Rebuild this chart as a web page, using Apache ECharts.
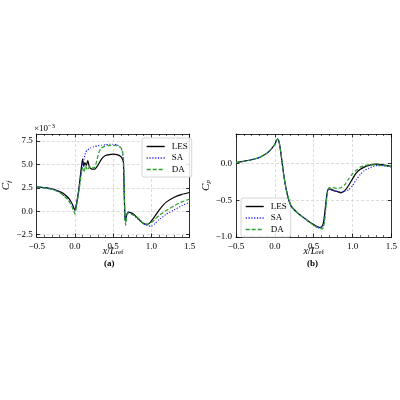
<!DOCTYPE html>
<html><head><meta charset="utf-8">
<script src="https://cdn.jsdelivr.net/npm/echarts@6/dist/echarts.min.js"></script>
<style>html,body{margin:0;padding:0;background:#fff}#c{width:400px;height:400px}</style>
</head><body><div id="c"></div>
<script>
// ---- Skin friction Cf (x1e-3) ----
const cfX_LES = [-0.5,-0.4,-0.3,-0.2,-0.15,-0.1,-0.06,-0.03,0.0,0.02,0.05,0.08,0.1,0.115,0.13,0.15,0.17,0.19,0.22,0.26,0.3,0.35,0.4,0.45,0.5,0.55,0.6,0.62,0.635,0.645,0.655,0.665,0.68,0.7,0.73,0.78,0.83,0.88,0.93,0.97,1.0,1.05,1.1,1.15,1.2,1.3,1.4,1.5];
const cfY_LES = [2.6,2.52,2.4,2.1,1.9,1.55,1.15,0.7,0.1,0.8,2.3,4.4,5.6,4.8,5.2,4.9,5.4,4.7,4.5,4.5,4.9,5.6,5.95,6.05,6.1,6.05,5.85,5.6,5.2,2.0,-0.6,-1.0,-0.3,-0.1,-0.15,-0.4,-0.8,-1.2,-1.4,-1.3,-1.05,-0.5,0.1,0.6,1.0,1.5,1.8,2.0];
const cfX_SA = [-0.5,-0.4,-0.3,-0.2,-0.1,-0.05,-0.02,0.0,0.02,0.05,0.08,0.1,0.12,0.14,0.16,0.2,0.25,0.3,0.35,0.4,0.45,0.5,0.55,0.6,0.62,0.635,0.645,0.655,0.665,0.68,0.7,0.75,0.8,0.85,0.9,0.95,1.0,1.05,1.1,1.2,1.3,1.4,1.5];
const cfY_SA = [2.6,2.5,2.35,2.05,1.35,0.85,0.35,0.0,0.7,2.2,4.0,4.9,5.6,6.3,6.5,6.75,6.9,7.0,7.05,7.1,7.15,7.15,7.1,6.8,6.4,5.5,2.5,-0.6,-1.2,-0.3,-0.15,-0.3,-0.65,-1.0,-1.35,-1.55,-1.6,-1.3,-0.9,-0.3,0.15,0.6,0.95];
const cfX_DA = [-0.5,-0.4,-0.3,-0.2,-0.1,-0.05,-0.02,0.0,0.02,0.05,0.08,0.1,0.12,0.14,0.16,0.2,0.25,0.28,0.31,0.34,0.38,0.44,0.5,0.55,0.6,0.62,0.635,0.645,0.655,0.665,0.68,0.7,0.75,0.8,0.85,0.9,0.95,1.0,1.05,1.1,1.2,1.3,1.4,1.5];
const cfY_DA = [2.6,2.5,2.33,2.0,1.3,0.7,0.1,-0.3,0.5,2.0,3.8,4.6,4.2,4.9,4.4,4.8,4.6,5.2,6.2,6.7,6.9,7.0,7.05,7.0,6.8,6.5,5.7,3.0,-1.0,-1.5,-0.4,-0.2,-0.35,-0.55,-0.9,-1.35,-1.4,-1.2,-0.85,-0.45,0.1,0.6,1.0,1.3];

// ---- Pressure coefficient Cp ----
const cpX_LES = [-0.5,-0.4,-0.3,-0.2,-0.1,-0.05,0.0,0.02,0.035,0.05,0.07,0.09,0.11,0.13,0.15,0.18,0.21,0.25,0.3,0.35,0.4,0.45,0.5,0.55,0.58,0.61,0.63,0.65,0.67,0.69,0.72,0.76,0.8,0.85,0.9,0.95,1.0,1.05,1.1,1.15,1.2,1.3,1.4,1.5];
const cpY_LES = [0.01,0.03,0.05,0.08,0.14,0.19,0.26,0.31,0.33,0.31,0.2,0.04,-0.12,-0.26,-0.37,-0.5,-0.58,-0.63,-0.68,-0.72,-0.76,-0.8,-0.83,-0.86,-0.87,-0.85,-0.78,-0.6,-0.42,-0.35,-0.35,-0.37,-0.38,-0.40,-0.37,-0.3,-0.21,-0.13,-0.08,-0.05,-0.03,-0.01,-0.02,-0.04];
const cpX_SA = [-0.5,-0.4,-0.3,-0.2,-0.1,-0.05,0.0,0.02,0.035,0.05,0.07,0.09,0.11,0.13,0.15,0.18,0.21,0.25,0.3,0.35,0.4,0.45,0.5,0.55,0.58,0.61,0.63,0.65,0.67,0.69,0.72,0.8,0.85,0.9,0.95,1.0,1.05,1.1,1.15,1.2,1.3,1.4,1.5];
const cpY_SA = [0.01,0.03,0.05,0.08,0.14,0.19,0.26,0.31,0.33,0.31,0.2,0.04,-0.12,-0.26,-0.37,-0.5,-0.58,-0.63,-0.68,-0.72,-0.76,-0.8,-0.84,-0.87,-0.88,-0.87,-0.82,-0.66,-0.44,-0.36,-0.36,-0.38,-0.39,-0.38,-0.36,-0.30,-0.22,-0.15,-0.10,-0.07,-0.03,-0.03,-0.05];
const cpX_DA = [-0.5,-0.4,-0.3,-0.2,-0.1,-0.05,0.0,0.02,0.035,0.05,0.07,0.09,0.11,0.13,0.15,0.18,0.21,0.25,0.3,0.35,0.4,0.45,0.5,0.55,0.6,0.62,0.64,0.66,0.68,0.7,0.75,0.8,0.85,0.9,0.95,1.0,1.05,1.1,1.2,1.3,1.4,1.5];
const cpY_DA = [0.01,0.03,0.05,0.08,0.14,0.19,0.26,0.31,0.33,0.31,0.2,0.04,-0.12,-0.26,-0.37,-0.5,-0.58,-0.63,-0.68,-0.72,-0.76,-0.8,-0.84,-0.87,-0.89,-0.88,-0.8,-0.55,-0.36,-0.33,-0.33,-0.34,-0.33,-0.29,-0.21,-0.14,-0.09,-0.05,-0.02,-0.02,-0.03,-0.04];

const xTicks = [-0.5, 0.0, 0.5, 1.0, 1.5];
const cfTicks = [-2.5, 0.0, 2.5, 5.0, 7.5];
const cpTicks = [-1.0, -0.5, 0.0];

const seriesNames = ['LES', 'SA', 'DA'];

const FONT = 'Liberation Serif';
const fmt = v => (Math.round(v * 10) / 10).toFixed(1).replace('-', '\u2212');
const pairs = (xs, ys) => xs.map((x, i) => [x, ys[i]]);

const styles = {
  LES: { color: '#000000', type: 'solid', width: 1.2 },
  SA: { color: '#1a1aff', type: [1.2, 1.6], width: 1.1 },
  DA: { color: '#2ca02c', type: [4, 2], width: 1.2 }
};

const gridLine = { show: true, lineStyle: { color: '#d4d4d4', type: [3, 2], width: 0.8 } };
const axLine = { show: true, onZero: false, lineStyle: { color: '#000', width: 0.8 } };
const tickIn = { show: true, inside: true, length: 3.5, lineStyle: { color: '#000', width: 0.8 } };
const minorIn = { show: true, splitNumber: 5, length: 2, lineStyle: { color: '#000', width: 0.6 } };
const lbl = { color: '#000', fontFamily: FONT, fontSize: 9 };

const xName = {
  name: '{i|x}{n|/}{i|L}{s|ref}',
  nameLocation: 'middle', nameGap: 9, nameMoveOverlap: false,
  nameTextStyle: { rich: {
    i: { fontFamily: FONT, fontStyle: 'italic', fontSize: 10, color: '#000' },
    n: { fontFamily: FONT, fontSize: 10, color: '#000' },
    s: { fontFamily: FONT, fontSize: 7, color: '#000', verticalAlign: 'bottom', padding: [2, 0, 0, 0] }
  } }
};

function mainX(gi) {
  return Object.assign({
    type: 'value', gridIndex: gi, min: -0.5, max: 1.5, interval: 0.5,
    axisLine: axLine, axisTick: tickIn, minorTick: minorIn,
    splitLine: gridLine,
    axisLabel: Object.assign({ formatter: fmt, margin: 5, customValues: xTicks }, lbl)
  }, xName);
}
function topX(gi) {
  return { type: 'value', gridIndex: gi, position: 'top', min: -0.5, max: 1.5, interval: 0.5,
    axisLine: axLine, axisTick: tickIn, minorTick: Object.assign({}, minorIn),
    axisLabel: { show: false }, splitLine: { show: false } };
}

const legendBase = {
  orient: 'vertical',
  itemWidth: 18, itemHeight: 6, itemGap: 2.5, padding: [4, 4, 3, 4],
  borderColor: '#cccccc', borderWidth: 0.8, borderRadius: 2, backgroundColor: 'rgba(255,255,255,0.85)',
  itemStyle: { color: 'transparent', borderColor: 'transparent', borderWidth: 0, opacity: 0 },
  textStyle: { fontFamily: FONT, fontSize: 9, color: '#000', padding: [0, 0, 0, 2] }
};
const legendData = () => seriesNames.map(n => ({
  name: n,
  lineStyle: { color: styles[n].color, type: styles[n].type, width: 1.4, opacity: 1 }
}));

const option = {
  animation: false,
  backgroundColor: '#fff',
  grid: [
    { left: 33.5, top: 134, width: 156, height: 103 },
    { left: 236, top: 134, width: 156, height: 103 }
  ],
  xAxis: [mainX(0), topX(0), mainX(1), topX(1)],
  yAxis: [
    { type: 'value', gridIndex: 0, min: -2.75, max: 8.25,
      axisLine: axLine,
      axisTick: Object.assign({ customValues: cfTicks }, tickIn),
      splitLine: gridLine,
      axisLabel: Object.assign({ formatter: fmt, margin: 4, customValues: cfTicks }, lbl),
      name: '{i|C}{s|f}', nameLocation: 'middle', nameGap: 19, nameRotate: 90,
      nameTextStyle: { rich: {
        i: { fontFamily: FONT, fontStyle: 'italic', fontSize: 11, color: '#000' },
        s: { fontFamily: FONT, fontStyle: 'italic', fontSize: 7, color: '#000', verticalAlign: 'bottom', padding: [5, 0, 0, 0] }
      } } },
    { type: 'value', gridIndex: 0, position: 'right', min: -2.75, max: 8.25,
      axisLine: axLine, axisTick: Object.assign({ customValues: cfTicks }, tickIn),
      axisLabel: { show: false }, splitLine: { show: false } },
    { type: 'value', gridIndex: 1, min: -1.0, max: 0.4, interval: 0.5,
      axisLine: axLine, axisTick: tickIn, splitLine: gridLine,
      axisLabel: Object.assign({ formatter: fmt, margin: 4, customValues: cpTicks }, lbl),
      name: '{i|C}{s|p}', nameLocation: 'middle', nameGap: 18, nameRotate: 90,
      nameTextStyle: { rich: {
        i: { fontFamily: FONT, fontStyle: 'italic', fontSize: 11, color: '#000' },
        s: { fontFamily: FONT, fontStyle: 'italic', fontSize: 7, color: '#000', verticalAlign: 'bottom', padding: [5, 0, 0, 0] }
      } } },
    { type: 'value', gridIndex: 1, position: 'right', min: -1.0, max: 0.4, interval: 0.5,
      axisLine: axLine, axisTick: tickIn,
      axisLabel: { show: false }, splitLine: { show: false } }
  ],
  legend: [
    Object.assign({ left: 142, top: 138, data: legendData() }, legendBase),
    Object.assign({ left: 241, top: 198, data: legendData() }, legendBase)
  ],
  graphic: [
    { type: 'text', left: 34, top: 123, style: { rich: {
        n: { fontFamily: FONT, fontSize: 9, fill: '#000' },
        s: { fontFamily: FONT, fontSize: 6.5, fill: '#000', verticalAlign: 'top', padding: [0, 0, 4, 0] } },
      text: '{n|\u00d710}{s|\u22123}' } },
    { type: 'text', left: 104, top: 259, style: { text: '(a)', font: 'bold 9px "Liberation Serif"', fill: '#000' } },
    { type: 'text', left: 307, top: 259, style: { text: '(b)', font: 'bold 9px "Liberation Serif"', fill: '#000' } }
  ],
  series: []
};

const cfData = { LES: [cfX_LES, cfY_LES], SA: [cfX_SA, cfY_SA], DA: [cfX_DA, cfY_DA] };
const cpData = { LES: [cpX_LES, cpY_LES], SA: [cpX_SA, cpY_SA], DA: [cpX_DA, cpY_DA] };
const order = ['DA', 'SA', 'LES'];
[[cfData, 0, 0], [cpData, 2, 2]].forEach(([d, xi, yi]) => {
  seriesNames.forEach(n => {
    const s = styles[n];
    option.series.push({
      name: n, type: 'line', xAxisIndex: xi, yAxisIndex: yi,
      data: pairs(d[n][0], d[n][1]), showSymbol: false, symbol: 'none',
      smooth: 0.15, z: 10 - order.indexOf(n),
      lineStyle: { color: s.color, type: s.type, width: s.width }, itemStyle: { color: s.color }
    });
  });
});

const chart = echarts.init(document.getElementById('c'), null, { renderer: 'canvas' });
chart.setOption(option);
</script></body></html>
